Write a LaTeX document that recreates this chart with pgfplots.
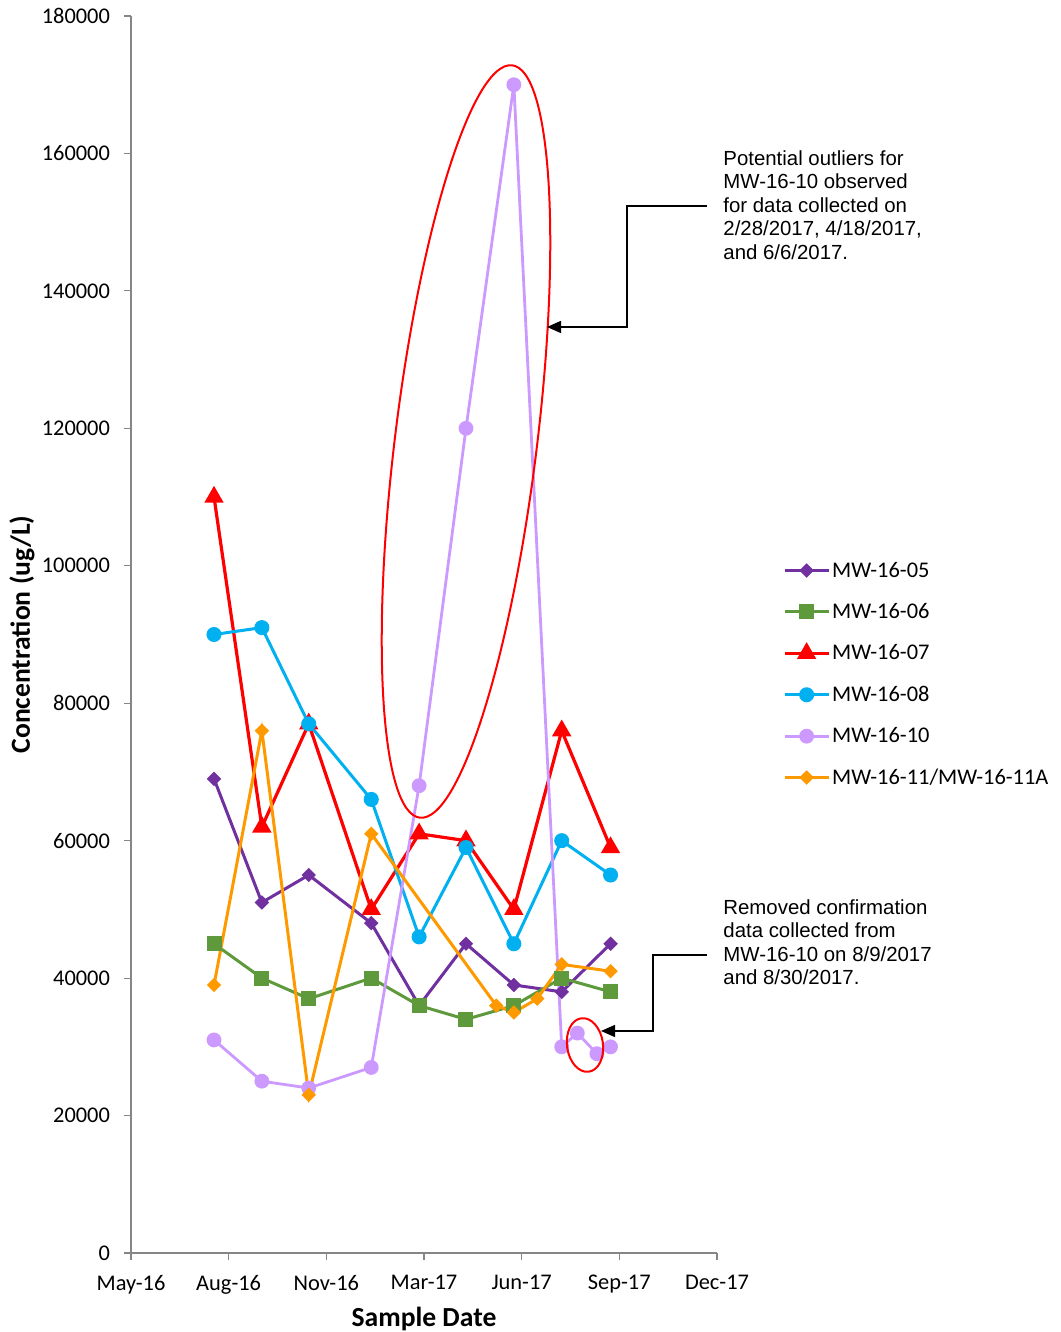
\documentclass[border=0pt]{standalone}
\usepackage{pgfplots}
\pgfplotsset{compat=1.18}
\usepackage{pgfplotstable}
\usepackage{fontspec}
\setmainfont{Carlito}
\newfontfamily\arialfont{Liberation Sans}
\usetikzlibrary{arrows.meta}

\definecolor{c05}{HTML}{7030A0}
\definecolor{c06}{HTML}{5E9A3C}
\definecolor{c07}{HTML}{FF0000}
\definecolor{c08}{HTML}{00B0F0}
\definecolor{c10}{HTML}{CC99FF}
\definecolor{c11}{HTML}{FF9900}
\definecolor{axgray}{HTML}{868686}

% x = days after 10 May 2016
\pgfplotstableread{
x    y
85   69000
134  51000
182  55000
246  48000
295  36000
343  45000
392  39000
441  38000
491  45000
}\mwfive
\pgfplotstableread{
x    y
85   45000
134  40000
182  37000
246  40000
295  36000
343  34000
392  36000
441  40000
491  38000
}\mwsix
\pgfplotstableread{
x    y
85   110000
134  62000
182  77000
246  50000
295  61000
343  60000
392  50000
441  76000
491  59000
}\mwseven
\pgfplotstableread{
x    y
85   90000
134  91000
182  77000
246  66000
295  46000
343  59000
392  45000
441  60000
491  55000
}\mweight
\pgfplotstableread{
x    y
85   31000
134  25000
182  24000
246  27000
295  68000
343  120000
392  170000
441  30000
457  32000
477  29000
491  30000
}\mwten
\pgfplotstableread{
x    y
85   39000
134  76000
182  23000
246  61000
374  36000
392  35000
416  37000
441  42000
491  41000
}\mweleven

\begin{document}
\begin{tikzpicture}
\begin{axis}[
  scale only axis,
  width=293pt, height=618.5pt,
  xmin=0, xmax=600, ymin=0, ymax=180000,
  xtick={0,100,...,600},
  xticklabels={May-16,Aug-16,Nov-16,Mar-17,Jun-17,Sep-17,Dec-17},
  ytick={0,20000,...,180000},
  scaled y ticks=false,
  yticklabel style={/pgf/number format/fixed,
    /pgf/number format/set thousands separator={}, xshift=-3.5pt},
  xticklabel style={yshift=-4pt},
  /pgf/number format/assume math mode=true,
  axis x line*=bottom, axis y line*=left,
  axis line style={axgray, line width=0.6pt},
  tick style={axgray, line width=0.6pt},
  tick align=outside, major tick length=3.5pt,
  ticklabel style={font=\fontsize{11.2}{13}\selectfont},
  xlabel={Sample Date}, ylabel={Concentration (ug/L)},
  label style={font=\bfseries\fontsize{13.8}{16}\selectfont},
  xlabel style={at={(axis description cs:0.5,0)}, anchor=center, yshift=-33pt},
  ylabel style={at={(axis description cs:0,0.5)}, anchor=center, yshift=54.5pt},
  clip=false,
  legend style={at={(1.112,0.468)}, anchor=west, draw=none, fill=none,
    inner sep=0pt, font=\fontsize{11.2}{13}\selectfont,
    nodes={inner sep=1pt, text height=9pt, text depth=2.5pt}, row sep=7.2pt},
  legend cell align=left,
  legend image code/.code={\draw[mark repeat=2, mark phase=2, #1]
    plot coordinates {(0pt,0pt) (11pt,0pt) (22pt,0pt)};},
]
\coordinate (SW) at (rel axis cs:0,0);
\addplot[c05, line width=1.5pt, mark=square*, mark size=1.8pt,
  mark options={rotate=45}] table {\mwfive};
\addlegendentry{MW-16-05}
\addplot[c06, line width=1.5pt, mark=square*, mark size=3pt] table {\mwsix};
\addlegendentry{MW-16-06}
\addplot[c07, line width=1.6pt, mark=triangle*, mark size=4pt] table {\mwseven};
\addlegendentry{MW-16-07}
\addplot[c08, line width=1.5pt, mark=*, mark size=3pt] table {\mweight};
\addlegendentry{MW-16-08}
\addplot[c10, line width=1.4pt, mark=*, mark size=3pt] table {\mwten};
\addlegendentry{MW-16-10}
\addplot[c11, line width=1.5pt, mark=square*, mark size=1.8pt,
  mark options={rotate=45}] table {\mweleven};
\addlegendentry{MW-16-11/MW-16-11A}
\end{axis}
\pgfresetboundingbox
\begin{scope}[shift={(SW)}, xshift=-65.5pt, yshift=626.5pt, x=0.5pt, y=-0.5pt]
\path[use as bounding box] (0,0) rectangle (1060,1332);
% outlier annotations
\draw[red, line width=1pt, rotate around={-7:(466,441.5)}]
  (466,441.5) ellipse [x radius=35.5pt, y radius=189.5pt];
\draw[red, line width=1pt, rotate around={8:(585,1045)}]
  (585,1045) ellipse [x radius=9pt, y radius=13.5pt];
\draw[black, line width=0.7pt, -{Triangle[length=7pt,width=6pt]}]
  (707,206) -- (627,206) -- (627,327) -- (547,327);
\draw[black, line width=0.7pt, -{Triangle[length=7pt,width=6pt]}]
  (707,955) -- (653,955) -- (653,1031) -- (601,1031);
\node[anchor=north west, inner sep=0pt, align=left,
  font=\arialfont\fontsize{10.2}{11.75}\selectfont] at (723,150)
  {Potential outliers for\\MW-16-10 observed\\for data collected on\\2/28/2017, 4/18/2017,\\and 6/6/2017.};
\node[anchor=north west, inner sep=0pt, align=left,
  font=\arialfont\fontsize{10.2}{11.75}\selectfont] at (723,899)
  {Removed confirmation\\data collected from\\MW-16-10 on 8/9/2017\\and 8/30/2017.};
\end{scope}
\end{tikzpicture}
\end{document}
